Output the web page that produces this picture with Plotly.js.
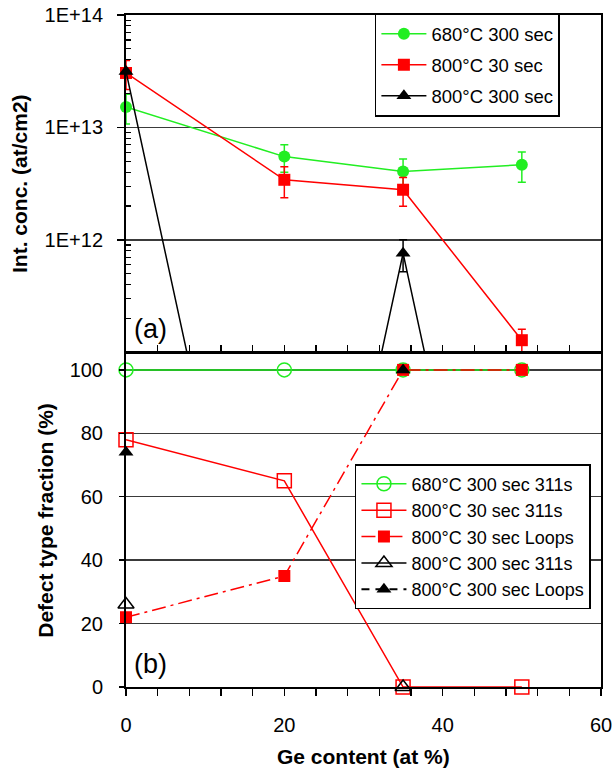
<!DOCTYPE html>
<html>
<head>
<meta charset="utf-8">
<script src="https://cdn.plot.ly/plotly-3.0.1.min.js"></script>
<style>html,body{margin:0;padding:0;background:#fff;}#chart{width:614px;height:769px;}</style>
</head>
<body>
<div id="chart"></div>
<script>
// ---- data ----
const geContent = [0, 20, 35, 50];

// (a) integrated concentration (at/cm2)
const conc680_300 = [1.52e13, 5.5e12, 4.05e12, 4.65e12];
const err680_300  = [4.5e12, 1.5e12, 1.2e12, 1.4e12];
const conc800_30  = [3.05e13, 3.42e12, 2.79e12, 1.28e11];
const err800_30   = [8.8e12, 1.05e12, 0.8e12, 3.2e10];
const conc800_300 = [3.15e13, 1e7, 7.6e11, 1e7];
const err800_300  = [0, 0, 2.4e11, 0];

// (b) defect type fraction (%)
const frac680_300_311   = [100, 100, 100, 100];
const frac800_30_311    = [78, 65, 0, 0];
const frac800_30_loops  = [22, 35, 100, 100];
const frac800_300_311   = [26, null, 0, null];
const frac800_300_loops = [74, null, 100, null];

const concTickVals = [1e12, 1e13, 1e14];
const concTickText = ['1E+12', '1E+13', '1E+14'];
const fracTickVals = [0, 20, 40, 60, 80, 100];
const xTickVals = [0, 20, 40, 60];

const GREEN = '#22ee22', RED = '#ff0000', BLACK = '#000000';
const FONT = 'Liberation Sans, Arial, sans-serif';

const minorLog = [];
for (let d = 11; d < 14; d++) for (let k = 2; k <= 9; k++) minorLog.push(k * Math.pow(10, d));

function errY(arr, color) {
  return {type: 'data', array: arr, visible: true, color: color, thickness: 1.5, width: 4};
}

const traces = [
  {x: geContent, y: conc680_300, name: '680°C 300 sec', mode: 'lines+markers',
   line: {color: GREEN, width: 1.5}, marker: {symbol: 'circle', size: 12, color: GREEN},
   error_y: errY(err680_300, GREEN), xaxis: 'x', yaxis: 'y', legend: 'legend', legendgroup: 'a1', cliponaxis: false},
  {x: geContent, y: conc800_30, name: '800°C 30 sec', mode: 'lines+markers',
   line: {color: RED, width: 1.5}, marker: {symbol: 'square', size: 12, color: RED},
   error_y: errY(err800_30, RED), xaxis: 'x', yaxis: 'y', legend: 'legend', legendgroup: 'a2', cliponaxis: false},
  {x: geContent, y: conc800_300, name: '800°C 300 sec', mode: 'lines+markers',
   line: {color: BLACK, width: 1.5}, marker: {symbol: 'triangle-up', size: 13, color: BLACK},
   error_y: errY(err800_300, BLACK), xaxis: 'x', yaxis: 'y', legend: 'legend', legendgroup: 'a3', cliponaxis: false},

  {x: geContent, y: frac680_300_311, name: '680°C 300 sec 311s', mode: 'lines+markers',
   line: {color: GREEN, width: 1.5}, marker: {symbol: 'circle-open', size: 14, color: GREEN, line: {width: 1.5}},
   xaxis: 'x2', yaxis: 'y2', legend: 'legend2', cliponaxis: false},
  {x: geContent, y: frac800_30_311, name: '800°C 30 sec 311s', mode: 'lines+markers',
   line: {color: RED, width: 1.5}, marker: {symbol: 'square-open', size: 14, color: RED, line: {width: 1.5}},
   xaxis: 'x2', yaxis: 'y2', legend: 'legend2', cliponaxis: false},
  {x: geContent, y: frac800_30_loops, name: '800°C 30 sec Loops', mode: 'lines+markers',
   line: {color: RED, width: 1.5, dash: '14px,5px,3px,5px'}, marker: {symbol: 'square', size: 12, color: RED},
   xaxis: 'x2', yaxis: 'y2', legend: 'legend2', cliponaxis: false},
  {x: geContent, y: frac800_300_311, name: '800°C 300 sec 311s', mode: 'lines+markers',
   line: {color: BLACK, width: 1.5}, marker: {symbol: 'triangle-up-open', size: 14, color: BLACK, line: {width: 1.5}},
   xaxis: 'x2', yaxis: 'y2', legend: 'legend2', cliponaxis: false},
  {x: geContent, y: frac800_300_loops, name: '800°C 300 sec Loops', mode: 'lines+markers',
   line: {color: BLACK, width: 2, dash: '8px,6px'}, marker: {symbol: 'triangle-up', size: 13, color: BLACK},
   xaxis: 'x2', yaxis: 'y2', legend: 'legend2', cliponaxis: false}
];

const tickFont = {family: FONT, size: 20, color: '#000'};
const layout = {
  width: 614, height: 769,
  margin: {l: 126, r: 13, t: 15, b: 82},
  paper_bgcolor: '#fff', plot_bgcolor: '#fff',
  font: {family: FONT, color: '#000'},
  showlegend: true,
  xaxis: {
    domain: [0, 1], anchor: 'y', range: [0, 60], showticklabels: false,
    tickmode: 'array', tickvals: xTickVals, ticks: 'inside', ticklen: 6, tickwidth: 1.5, tickcolor: '#000',
    minor: {dtick: 4, ticks: 'inside', ticklen: 6, tickwidth: 1.5, tickcolor: '#000', showgrid: false},
    showline: true, linewidth: 2, linecolor: '#000', mirror: true, showgrid: false, zeroline: false
  },
  yaxis: {
    domain: [0.4993, 1], anchor: 'x', type: 'log', range: [11.007, 14.0],
    tickmode: 'array', tickvals: concTickVals, ticktext: concTickText, tickfont: tickFont,
    ticks: 'outside', ticklen: 7, tickwidth: 1.5, tickcolor: '#000', ticklabelstandoff: 10,
    minor: {tickmode: 'array', tickvals: minorLog, ticks: 'inside', ticklen: 5, tickwidth: 1.2, tickcolor: '#000', showgrid: false},
    showgrid: true, gridcolor: '#3a3a3a', gridwidth: 1.5,
    showline: true, linewidth: 2, linecolor: '#000', mirror: true, zeroline: false
  },
  xaxis2: {
    domain: [0, 1], anchor: 'y2', range: [0, 60],
    tickmode: 'array', tickvals: xTickVals, tickfont: tickFont,
    ticks: 'outside', ticklen: 7, tickwidth: 1.5, tickcolor: '#000', ticklabelstandoff: 12,
    minor: {dtick: 4, ticks: 'outside', ticklen: 7, tickwidth: 1.5, tickcolor: '#000', showgrid: false},
    showline: true, linewidth: 2, linecolor: '#000', mirror: true, showgrid: false, zeroline: false
  },
  yaxis2: {
    domain: [0, 0.4955], anchor: 'x2', range: [0, 105],
    tickmode: 'array', tickvals: fracTickVals, tickfont: tickFont,
    ticks: 'outside', ticklen: 5, tickwidth: 1.5, tickcolor: '#000', ticklabelstandoff: 12,
    showgrid: true, gridcolor: '#3a3a3a', gridwidth: 1.5,
    showline: true, linewidth: 2, linecolor: '#000', mirror: true, zeroline: false
  },
  legend: {
    x: 0.524, y: 1.002, xanchor: 'left', yanchor: 'top',
    bgcolor: '#fff', bordercolor: '#000', borderwidth: 1.5,
    font: {family: FONT, size: 18.5, color: '#000'},
    traceorder: 'grouped', tracegroupgap: 4, itemwidth: 45
  },
  legend2: {
    x: 0.482, y: 0.3318, xanchor: 'left', yanchor: 'top',
    bgcolor: '#fff', bordercolor: '#000', borderwidth: 1.5,
    font: {family: FONT, size: 18, color: '#000'},
    traceorder: 'normal', itemwidth: 45
  },
  annotations: [
    {text: '<b>Int. conc. (at/cm2)</b>', xref: 'paper', yref: 'paper', x: -0.2253, y: 0.75,
     xanchor: 'center', yanchor: 'middle', textangle: -90, showarrow: false, font: {family: FONT, size: 21, color: '#000'}},
    {text: '<b>Defect type fraction (%)</b>', xref: 'paper', yref: 'paper', x: -0.17, y: 0.2478,
     xanchor: 'center', yanchor: 'middle', textangle: -90, showarrow: false, font: {family: FONT, size: 21, color: '#000'}},
    {text: '<b>Ge content (at %)</b>', xref: 'paper', yref: 'paper', x: 0.5, y: -0.1027,
     xanchor: 'center', yanchor: 'middle', showarrow: false, font: {family: FONT, size: 21, color: '#000'}},
    {text: '(a)', xref: 'paper', yref: 'paper', x: 0.013, y: 0.532,
     xanchor: 'left', yanchor: 'middle', showarrow: false, font: {family: FONT, size: 27, color: '#000'}},
    {text: '(b)', xref: 'paper', yref: 'paper', x: 0.013, y: 0.0335,
     xanchor: 'left', yanchor: 'middle', showarrow: false, font: {family: FONT, size: 27, color: '#000'}}
  ]
};

Plotly.newPlot('chart', traces, layout, {displayModeBar: false, staticPlot: true});
</script>
</body>
</html>
